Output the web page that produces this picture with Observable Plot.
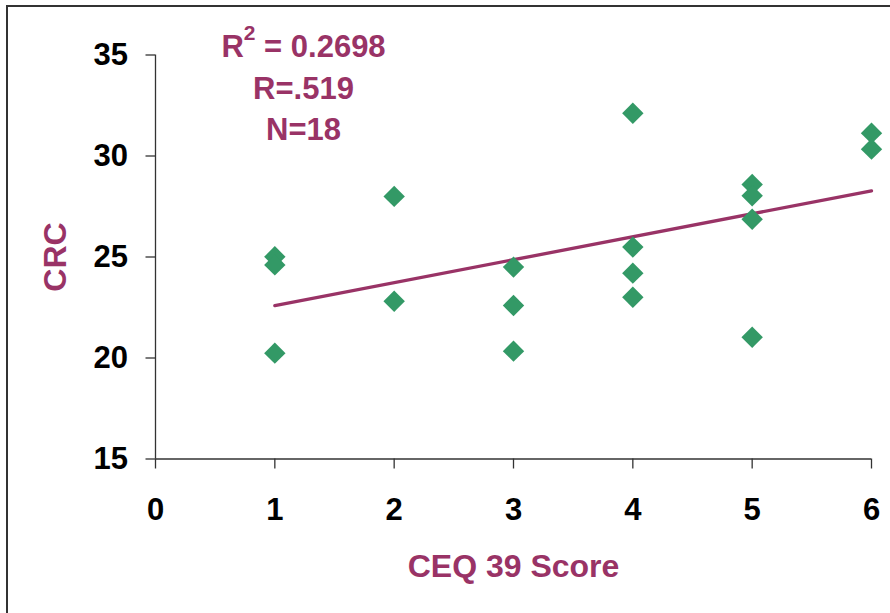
<!DOCTYPE html>
<html><head><meta charset="utf-8">
<script src="https://cdn.jsdelivr.net/npm/d3@7"></script>
<script src="https://cdn.jsdelivr.net/npm/@observablehq/plot@0.6"></script>
<style>
html,body{margin:0;padding:0;background:#fff;}
#wrap{position:relative;width:890px;height:613px;overflow:hidden;background:#fff;}
#wrap svg{position:absolute;left:0;top:0;}
#border{position:absolute;left:6px;top:5px;width:950px;height:700px;border-left:2px solid #333;border-top:2px solid #333;pointer-events:none;}
</style></head><body><div id="wrap"></div>
<script>
const ceqScore = [1, 1, 1, 2, 2, 3, 3, 3, 4, 4, 4, 4, 5, 5, 5, 5, 6, 6];
const crc = [25.01, 24.61, 20.24, 28.0, 22.81, 24.50, 22.60, 20.34, 32.12, 25.49, 24.20, 23.01, 28.59, 28.03, 26.87, 21.03, 31.13, 30.34];
const xTicks = [0, 1, 2, 3, 4, 5, 6];
const yTicks = [15, 20, 25, 30, 35];
const statsLines = ["R² = 0.2698", "R=.519", "N=18"];
const xLabel = "CEQ 39 Score";
const yLabel = "CRC";

const points = ceqScore.map((x, i) => ({x, y: crc[i]}));
const green = "#339966", plum = "#993366", axisGray = "#333";
const diamond = {draw(ctx, size) { const r = Math.sqrt(size / Math.PI); ctx.moveTo(0, -r); ctx.lineTo(r, 0); ctx.lineTo(0, r); ctx.lineTo(-r, 0); ctx.closePath(); }};

const chart = Plot.plot({
  width: 890, height: 613,
  marginLeft: 155, marginRight: 19, marginTop: 54.5, marginBottom: 154.5,
  style: {fontFamily: "'Liberation Sans', Arial, sans-serif", fontWeight: "bold", background: "transparent", overflow: "visible"},
  x: {domain: [0, 6]},
  y: {domain: [15, 35]},
  marks: [
    Plot.ruleX([0], {stroke: axisGray, strokeWidth: 1.3}),
    Plot.ruleY([15], {stroke: axisGray, strokeWidth: 1.3}),
    Plot.axisX({ticks: xTicks, tickSize: 10, tickPadding: 28.5, fontSize: 31, fontWeight: "bold", fill: "black", stroke: axisGray, strokeWidth: 1.3, tickFormat: d => String(d), label: null}),
    Plot.axisY({ticks: yTicks, tickSize: 9.5, tickPadding: 18, fontSize: 31, fontWeight: "bold", fill: "black", stroke: axisGray, strokeWidth: 1.3, tickFormat: d => String(d), label: null}),
    Plot.linearRegressionY(points, {x: "x", y: "y", ci: 0, stroke: plum, strokeWidth: 3.3}),
    Plot.dot(points, {x: "x", y: "y", symbol: diamond, r: 10.7, fill: green, stroke: "none"}),
    Plot.text([statsLines.join("\n")], {frameAnchor: "top-left", dx: 148, dy: -28, lineAnchor: "top", textAnchor: "middle", lineHeight: 1.35, fontSize: 31, fontWeight: "bold", fill: plum}),
    Plot.text([xLabel], {frameAnchor: "bottom", dy: 108, lineAnchor: "middle", textAnchor: "middle", fontSize: 32, fontWeight: "bold", fill: plum}),
    Plot.text([yLabel], {frameAnchor: "left", dx: -100, rotate: -90, lineAnchor: "middle", textAnchor: "middle", fontSize: 32, fontWeight: "bold", fill: plum})
  ]
});

// render the superscript 2 of the first stats line as a raised smaller digit
const ns = "http://www.w3.org/2000/svg";
chart.querySelectorAll("tspan").forEach(t => {
  if (t.textContent === statsLines[0]) {
    const [before, after] = statsLines[0].split("²");
    t.textContent = "";
    t.appendChild(document.createTextNode(before));
    const sup = document.createElementNS(ns, "tspan");
    sup.setAttribute("font-size", "21");
    sup.setAttribute("dy", "-17");
    sup.textContent = "2";
    t.appendChild(sup);
    const rest = document.createElementNS(ns, "tspan");
    rest.setAttribute("font-size", "31");
    rest.setAttribute("dy", "17");
    rest.textContent = after;
    t.appendChild(rest);
  }
});

const wrap = document.getElementById("wrap");
wrap.appendChild(chart);
const border = document.createElement("div");
border.id = "border";
wrap.appendChild(border);
</script></body></html>
